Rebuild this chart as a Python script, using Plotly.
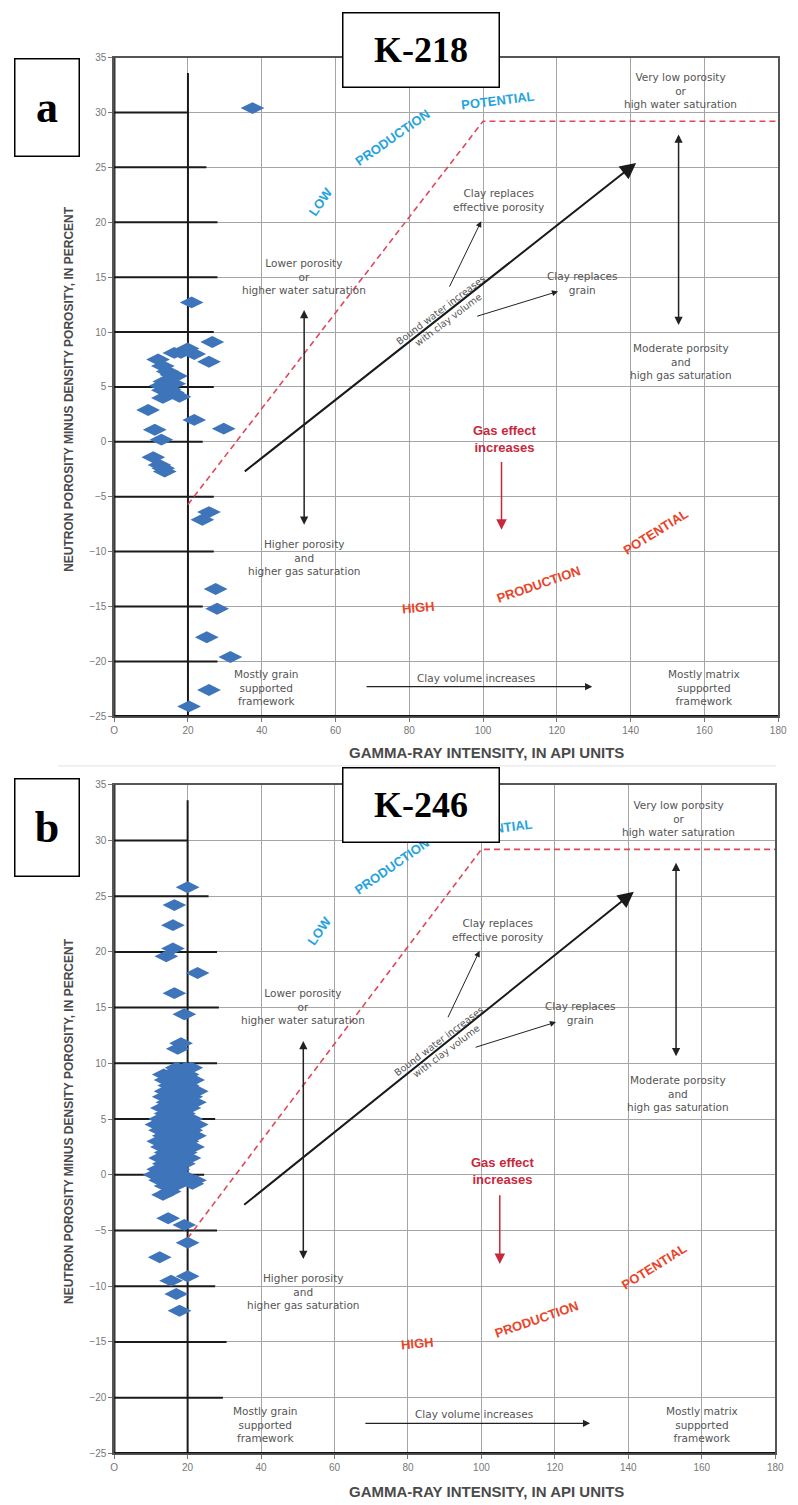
import plotly.graph_objects as go

# ---------------- data ----------------
gamma_ticks = [0, 20, 40, 60, 80, 100, 120, 140, 160, 180]
phi_ticks = [-25, -20, -15, -10, -5, 0, 5, 10, 15, 20, 25, 30, 35]

# K-218 well (panel a)
k218_gr = [37.5, 21.0, 26.6, 19.9, 18.1, 16.3, 21.7, 25.7, 11.9, 13.2, 15.5, 16.8, 13.6, 16.3,
           13.2, 15.9, 17.7, 13.2, 14.5, 12.6, 15.0, 9.2, 21.7, 29.7, 11.0, 12.8, 10.6, 12.3,
           13.3, 13.7, 23.9, 25.7, 27.5, 27.9, 25.1, 31.5, 25.7, 20.3]
k218_phi = [30.4, 12.7, 9.1, 8.5, 8.1, 8.1, 8.0, 7.3, 7.5, 6.9, 6.1, 6.0, 5.5, 5.3,
            4.7, 4.5, 4.1, 4.0, 6.4, 5.1, 4.8, 2.9, 2.0, 1.2, 1.1, 0.2, -1.4, -2.1,
            -2.4, -2.7, -7.1, -6.4, -13.4, -15.2, -17.8, -19.6, -22.6, -24.1]

# K-246 well (panel b)
k246_gr = [20.0, 16.4, 16.0, 16.0, 14.2, 22.7, 16.4, 19.1, 18.2, 17.3,
           17.0, 19.5, 21.0,
           13.5, 15.0, 17.5, 20.0,
           14.0, 16.0, 19.0, 21.5,
           15.0, 17.0, 20.0,
           14.0, 16.5, 19.0, 22.5,
           13.5, 15.5, 18.0, 21.0,
           14.5, 17.0, 19.5, 22.0,
           13.0, 15.5, 18.0, 20.5,
           14.0, 16.5, 19.0,
           12.5, 15.0, 17.5, 21.0,
           11.5, 14.0, 16.5, 19.5, 22.5,
           12.5, 15.0, 18.0, 21.0,
           13.5, 16.0, 19.0, 22.0,
           12.0, 14.5, 17.5, 20.0,
           13.0, 15.5, 18.5, 21.5,
           14.0, 16.5, 19.5,
           12.5, 15.0, 18.0, 20.5,
           13.5, 16.0, 19.0,
           12.0, 14.5, 17.5,
           11.0, 13.5, 16.0, 18.5,
           12.5, 15.0, 17.5, 20.5, 22.0,
           14.0, 16.5,
           18.7, 21.3, 13.3, 15.1, 14.7, 19.1, 20.0, 12.4, 15.5, 20.0, 16.9, 17.8]
k246_phi = [25.8, 24.2, 22.4, 20.3, 19.6, 18.1, 16.3, 14.4, 11.8, 11.3,
            9.6, 9.6, 9.6,
            9.0, 9.0, 9.0, 9.0,
            8.5, 8.5, 8.5, 8.5,
            8.0, 8.0, 8.0,
            7.5, 7.5, 7.5, 7.5,
            7.0, 7.0, 7.0, 7.0,
            6.5, 6.5, 6.5, 6.5,
            6.0, 6.0, 6.0, 6.0,
            5.5, 5.5, 5.5,
            5.0, 5.0, 5.0, 5.0,
            4.5, 4.5, 4.5, 4.5, 4.5,
            4.0, 4.0, 4.0, 4.0,
            3.5, 3.5, 3.5, 3.5,
            3.0, 3.0, 3.0, 3.0,
            2.5, 2.5, 2.5, 2.5,
            2.0, 2.0, 2.0,
            1.5, 1.5, 1.5, 1.5,
            1.0, 1.0, 1.0,
            0.5, 0.5, 0.5,
            0.0, 0.0, 0.0, 0.0,
            -0.5, -0.5, -0.5, -0.5, -0.5,
            -1.0, -1.0,
            -0.6, -0.8, -1.8, -1.5, -3.9, -4.5, -6.1, -7.4, -9.5, -9.1, -10.7, -12.2]

# production-potential cutoff (dashed red)
cutoff_gr = [20, 100, 180]
cutoff_phi = [-5.7, 29.2, 29.2]

# black bars on the y ticks (gamma end value)
bar_phi = [30, 25, 20, 15, 10, 5, 0, -5, -10, -15, -20]
bar_end_a = [20, 25, 28, 28, 27, 27, 24, 27, 27, 24, 28]
bar_end_b = [20, 25.7, 28, 28.5, 28, 27.5, 24.5, 28, 27.5, 30.6, 29.6]

W, H = 798, 1505
SANS = "DejaVu Sans, Liberation Sans, Arial"
TITLE = "Liberation Sans, Arial"
GREY = "#555555"
BLUE_T = "#27a3dc"
RED_T = "#e8452a"
GAS = "#c8283c"
MARK = "#3e74ba"

fig = go.Figure()

panels = [
    dict(xa="x", ya="y", gr=k218_gr, phi=k218_phi, bars=bar_end_a,
         xdom=[112 / W, 787 / W], ydom=[1 - 716 / H, 1 - 52 / H]),
    dict(xa="x2", ya="y2", gr=k246_gr, phi=k246_phi, bars=bar_end_b,
         xdom=[112 / W, 784 / W], ydom=[1 - 1459 / H, 1 - 785 / H]),
]

shapes = []
annotations = []

def txt(p, x, y, text, size=10.5, color=GREY, angle=0, bold=False, family=SANS):
    annotations.append(dict(
        xref=p["xa"], yref=p["ya"], x=x, y=y, text=("<b>%s</b>" % text) if bold else text,
        showarrow=False, textangle=angle, font=dict(size=size, color=color, family=family),
        xanchor="center", yanchor="middle", align="center"))

def arrow(p, x0, y0, x1, y1, width=1, color="#222", head=2, size=1.0, both=False):
    annotations.append(dict(
        xref=p["xa"], yref=p["ya"], axref=p["xa"], ayref=p["ya"],
        x=x1, y=y1, ax=x0, ay=y0, text="", showarrow=True,
        arrowhead=head, arrowsize=size, arrowwidth=width, arrowcolor=color,
        arrowside="end+start" if both else "end", startarrowhead=head, startarrowsize=size,
        standoff=0, startstandoff=0))

for i, p in enumerate(panels):
    sfx = "" if i == 0 else "2"
    ax_common = dict(showgrid=True, gridcolor="#a5a5a5", gridwidth=1, zeroline=False,
                     showline=True, linecolor="#555", linewidth=1.5, mirror=True,
                     ticks="outside", ticklen=4, tickcolor="#777", tickwidth=1,
                     tickfont=dict(size=10, color="#777", family=TITLE))
    fig.update_layout(**{
        "xaxis" + sfx: dict(ax_common, domain=p["xdom"], anchor="y" + sfx, range=[0, 180],
                            tickvals=gamma_ticks, ticktext=["O"] + [str(v) for v in gamma_ticks[1:]]),
        "yaxis" + sfx: dict(ax_common, domain=p["ydom"], anchor="x" + sfx, range=[-25, 35],
                            tickvals=phi_ticks),
    })

    # black bars & x=20 line
    for yv, xe in zip(bar_phi, p["bars"]):
        shapes.append(dict(type="line", xref=p["xa"], yref=p["ya"], x0=0, x1=xe, y0=yv, y1=yv,
                           line=dict(color="#1a1a1a", width=2), layer="between"))
    shapes.append(dict(type="line", xref=p["xa"], yref=p["ya"], x0=20, x1=20, y0=-25, y1=33.6,
                       line=dict(color="#1a1a1a", width=2), layer="between"))
    # thick left / bottom axis lines
    shapes.append(dict(type="line", xref=p["xa"], yref=p["ya"], x0=0, x1=0, y0=-25, y1=35,
                       line=dict(color="#111", width=2.5)))
    shapes.append(dict(type="line", xref=p["xa"], yref=p["ya"], x0=0, x1=180, y0=-25, y1=-25,
                       line=dict(color="#111", width=2.5)))

    # cutoff line
    fig.add_trace(go.Scatter(x=cutoff_gr, y=cutoff_phi, mode="lines", xaxis=p["xa"], yaxis=p["ya"],
                             line=dict(color="#e0485a", width=1.6, dash="6px,4px"), hoverinfo="skip",
                             showlegend=False))
    # data points
    fig.add_trace(go.Scatter(x=p["gr"], y=p["phi"], mode="markers", xaxis=p["xa"], yaxis=p["ya"],
                             marker=dict(symbol="diamond-wide", size=17, color=MARK,
                                         line=dict(width=0)),
                             showlegend=False))

    # schematic texts
    txt(p, 51.5, 15.1, "Lower porosity<br>or<br>higher water saturation")
    txt(p, 51.5, -10.5, "Higher porosity<br>and<br>higher gas saturation")
    txt(p, 153.6, 32.0, "Very low porosity<br>or<br>high water saturation")
    txt(p, 153.6, 7.3, "Moderate porosity<br>and<br>high gas saturation")
    txt(p, 104.3, 22.0, "Clay replaces<br>effective porosity")
    txt(p, 127.0, 14.5, "Clay replaces<br>grain")
    txt(p, 89.5, 11.6, "Bound water increases<br>with clay volume", size=9.5, angle=-37)
    txt(p, 105.9, 0.3, "Gas effect<br>increases", size=13, color=GAS, bold=True, family=TITLE)
    txt(p, 82.6, -15.1, "HIGH", size=13, color=RED_T, angle=-5, bold=True, family=TITLE)
    txt(p, 115.0, -13.0, "PRODUCTION", size=13, color=RED_T, angle=-19, bold=True, family=TITLE)
    txt(p, 147.0, -8.2, "POTENTIAL", size=13, color=RED_T, angle=-32, bold=True, family=TITLE)
    txt(p, 56.0, 21.9, "LOW", size=13, color=BLUE_T, angle=-55, bold=True, family=TITLE)
    txt(p, 75.5, 27.7, "PRODUCTION", size=13, color=BLUE_T, angle=-35, bold=True, family=TITLE)
    txt(p, 104.0, 31.1, "POTENTIAL", size=13, color=BLUE_T, angle=-7, bold=True, family=TITLE)
    txt(p, 41.2, -22.4, "Mostly grain<br>supported<br>framework")
    txt(p, 98.0, -21.5, "Clay volume increases")
    txt(p, 160.0, -22.4, "Mostly matrix<br>supported<br>framework")

    # arrows
    arrow(p, 35, -2.8, 141.5, 25.4, width=2, color="#1a1a1a", head=2, size=1.6)
    arrow(p, 90.7, 14.0, 99.5, 20.1, width=1, head=2, size=1.2)
    arrow(p, 98.0, 11.4, 120.3, 13.7, width=1, head=2, size=1.2)
    arrow(p, 153, 10.5, 153, 28.0, width=1.5, head=2, size=1.1, both=True)
    arrow(p, 51.5, -7.7, 51.5, 12.0, width=1.5, head=2, size=1.1, both=True)
    arrow(p, 105, -1.7, 105, -8.0, width=1.5, color=GAS, head=2, size=1.4)
    arrow(p, 68, -22.3, 129.6, -22.3, width=1.2, head=2, size=1.2)

# axis titles
for yc, xt_y in [(386, 753), (1124, 1497)]:
    annotations.append(dict(xref="paper", yref="paper", x=66 / W, y=1 - yc / H,
                            xanchor="center", yanchor="middle",
                            text="<b>NEUTRON POROSITY MINUS DENSITY POROSITY, IN PERCENT</b>",
                            textangle=-90, showarrow=False,
                            font=dict(size=12, color="#4a4a4a", family=TITLE)))
    annotations.append(dict(xref="paper", yref="paper", x=490 / W, y=1 - xt_y / H,
                            xanchor="center", yanchor="middle",
                            text="<b>GAMMA-RAY INTENSITY, IN API UNITS</b>", showarrow=False,
                            font=dict(size=15, color="#4a4a4a", family=TITLE)))

# separator
shapes.append(dict(type="line", xref="paper", yref="paper", x0=55 / W, x1=785 / W,
                   y0=1 - 766 / H, y1=1 - 766 / H, line=dict(color="#e2e2e2", width=1)))

# label boxes
SERIF = "Liberation Serif, Times New Roman, serif"
for (cx, cy, w, h, t, fs) in [(43.5, 102, 63, 96, "a", 44), (423.5, 44.5, 155, 73, "K-218", 36),
                              (43.5, 828, 63, 96, "b", 44), (423.5, 805.5, 155, 73, "K-246", 36)]:
    annotations.append(dict(xref="paper", yref="paper", x=cx / W, y=1 - cy / H,
                            xanchor="center", yanchor="middle", text="<b>%s</b>" % t,
                            showarrow=False, width=w, height=h, borderpad=0,
                            bgcolor="white", bordercolor="black", borderwidth=1.5,
                            font=dict(size=fs, color="black", family=SERIF)))

fig.update_layout(width=W, height=H, margin=dict(l=0, r=0, t=0, b=0),
                  paper_bgcolor="white", plot_bgcolor="white", showlegend=False,
                  shapes=shapes, annotations=annotations)

fig.write_html("out.html")
